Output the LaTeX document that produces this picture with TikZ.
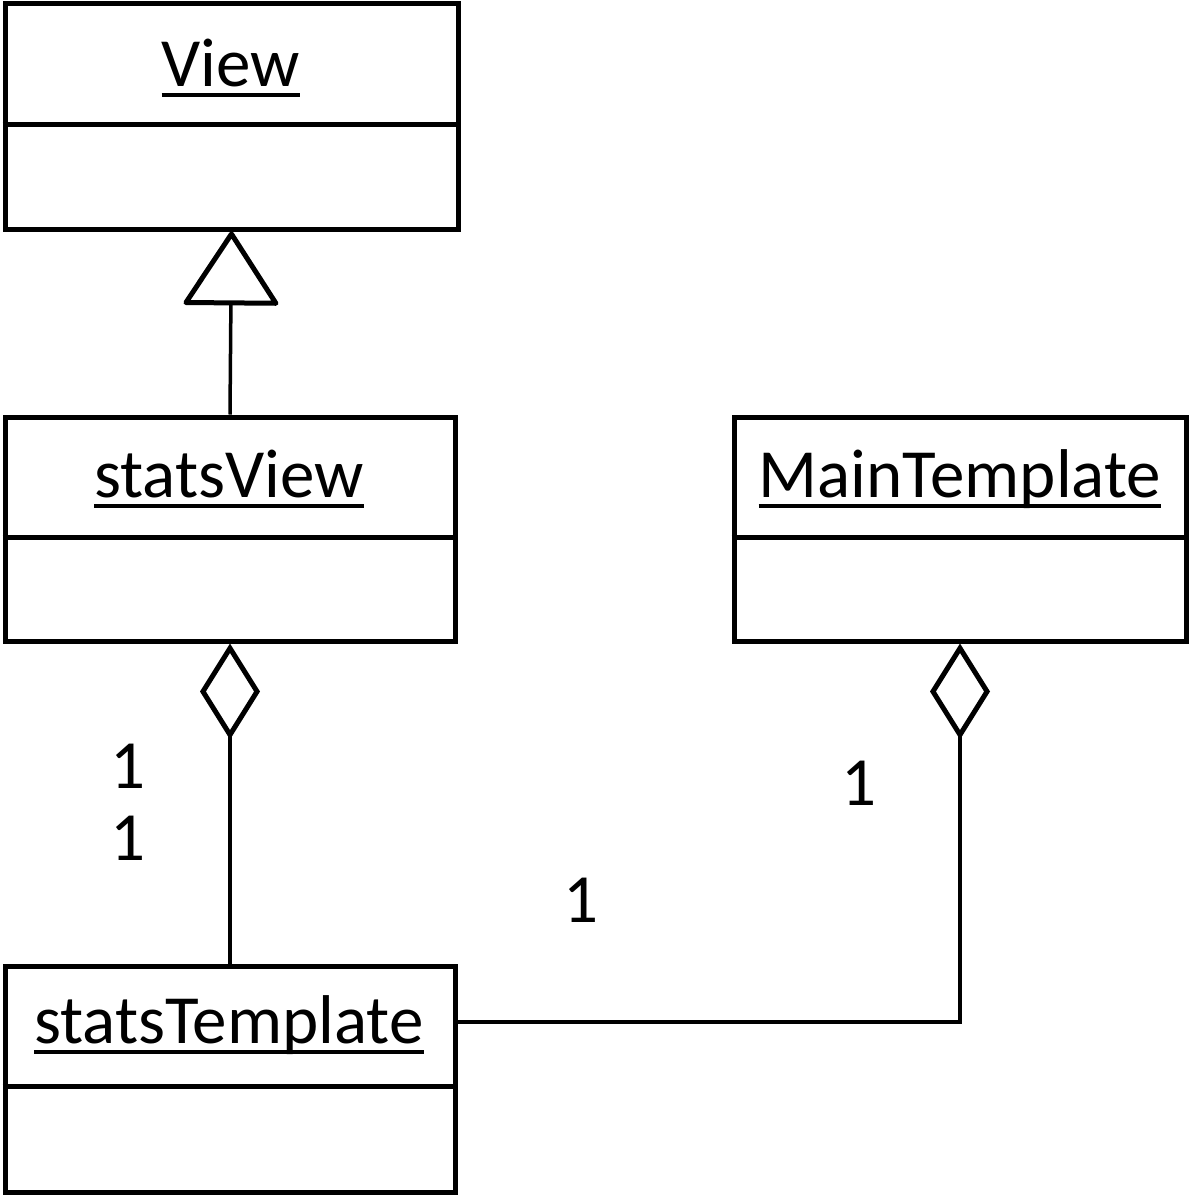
\documentclass[tikz,border=0pt]{standalone}
\usepackage{fontspec}
\setmainfont{Carlito}
\usetikzlibrary{arrows.meta}
\begin{document}
\begin{tikzpicture}[x=1pt,y=-1pt,
  cls/.style={draw,line width=5pt,minimum width=450pt,minimum height=224pt,inner sep=0pt,line join=miter},
  lbl/.style={inner sep=0pt,anchor=base,font=\fontsize{69}{83}\selectfont},
  conn/.style={line width=3.5pt},
  divider/.style={line width=5pt},
  uline/.style={line width=3.5pt},
  inh/.style={conn,-{Triangle[open,length=76pt,width=98pt,line width=5pt,round]}},
  agg/.style={conn,{Diamond[open,length=96pt,width=60pt,line width=5pt]}-}
]
\useasboundingbox (0,0) rectangle (1189,1195);
% class boxes
\node[cls,minimum width=453pt,minimum height=226pt] (view) at (231.5,116) {};
\node[cls] (sv) at (230,529) {};
\node[cls,minimum width=452pt] (mt) at (960,529) {};
\node[cls,minimum height=226pt] (st) at (230,1079) {};
% dividers
\draw[divider] (view.west |- 0,124) -- (view.east |- 0,124);
\draw[divider] (sv.west |- 0,537) -- (sv.east |- 0,537);
\draw[divider] (mt.west |- 0,537) -- (mt.east |- 0,537);
\draw[divider] (st.west |- 0,1086) -- (st.east |- 0,1086);
% names
\node[lbl] (tview) at (231,86) {View};
\node[lbl] (tsv) at (229,497) {statsView};
\node[lbl] (tmt) at (960,497) {MainTemplate};
\node[lbl] (tst) at (229,1043) {statsTemplate};
\foreach \n in {tview,tsv,tmt,tst}{
  \draw[uline] ([yshift=-9pt]\n.base west) -- ([yshift=-9pt]\n.base east);
}
% connectors
\coordinate (stc) at (st.east |- 0,1022);
\draw[inh] (sv.north) -- (view.south);
\draw[agg] (sv.south) -- (st.north);
\draw[agg] (mt.south) |- (stc);
% multiplicities
\node[lbl] (m1) at (128,788) {1};
\node[lbl] (m2) at (128,860) {1};
\node[lbl] (m3) at (859,805) {1};
\node[lbl] (m4) at (581,922) {1};
\end{tikzpicture}
\end{document}
